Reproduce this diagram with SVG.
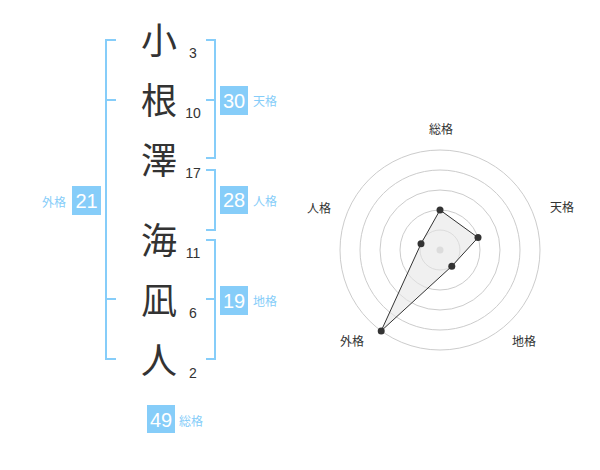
<svg xmlns="http://www.w3.org/2000/svg" width="600" height="470" viewBox="0 0 600 470">
<style>
.ch{font-family:"Noto Sans CJK JP","Noto Sans CJK SC",sans-serif;font-size:36px;fill:#333;text-anchor:middle}
.num{font-family:"Liberation Sans",Arial,sans-serif;font-size:14px;fill:#333;text-anchor:middle}
.br{fill:none;stroke:#86cdf9;stroke-width:2}
.box{fill:#86cdf9}
.bt{font-family:"Liberation Sans",Arial,sans-serif;font-size:20px;fill:#fff;text-anchor:middle}
.lb{font-family:"Noto Sans CJK JP","Noto Sans CJK SC",sans-serif;font-size:12px;fill:#86cdf9}
.rl{font-family:"Noto Sans CJK JP","Noto Sans CJK SC",sans-serif;font-size:12px;fill:#333;text-anchor:middle}
.ring{fill:none;stroke:#ccc;stroke-width:1}
.pt{fill:#333}
</style>
<rect width="600" height="470" fill="#fff"/>
<g id="chars">
<text class="ch" x="159" y="54">小</text>
<text class="ch" x="159" y="114">根</text>
<text class="ch" x="159" y="174">澤</text>
<text class="ch" x="159" y="254">海</text>
<text class="ch" x="159" y="314">凪</text>
<text class="ch" x="159" y="374">人</text>
</g>
<g id="strokes">
<text class="num" x="193" y="58">3</text>
<text class="num" x="193" y="118">10</text>
<text class="num" x="193" y="178">17</text>
<text class="num" x="193" y="258">11</text>
<text class="num" x="193" y="318">6</text>
<text class="num" x="193" y="378">2</text>
</g>
<g id="connectors">
<path class="br" d="M116,40H106V359H116M106,100H116M106,299H116"/>
<path class="br" d="M206,40H215V158H206M215,100H206"/>
<path class="br" d="M206,170H215V230H206"/>
<path class="br" d="M206,240H215V359H206M215,299H206"/>
</g>
<g id="tenkaku">
<rect class="box" x="220" y="86" width="28" height="29"/>
<text class="bt" x="234" y="108">30</text>
<text class="lb" x="253" y="106">天格</text>
</g>
<g id="jinkaku">
<rect class="box" x="220" y="186" width="28" height="28"/>
<text class="bt" x="234" y="207">28</text>
<text class="lb" x="253" y="206">人格</text>
</g>
<g id="chikaku">
<rect class="box" x="220" y="286" width="28" height="29"/>
<text class="bt" x="234" y="308">19</text>
<text class="lb" x="253" y="306">地格</text>
</g>
<g id="gaikaku">
<rect class="box" x="72" y="186" width="29" height="29"/>
<text class="bt" x="86.5" y="208">21</text>
<text class="lb" x="66" y="207" text-anchor="end">外格</text>
</g>
<g id="soukaku">
<rect class="box" x="147" y="405" width="28" height="28"/>
<text class="bt" x="161" y="427">49</text>
<text class="lb" x="179" y="426">総格</text>
</g>
<g id="radar">
<circle class="ring" cx="440" cy="250" r="20"/>
<circle class="ring" cx="440" cy="250" r="40"/>
<circle class="ring" cx="440" cy="250" r="60"/>
<circle class="ring" cx="440" cy="250" r="80"/>
<circle class="ring" cx="440" cy="250" r="100"/>
<circle cx="440" cy="250" r="3.5" fill="#ccc"/>
<polygon points="440,210 478,237.6 451.8,266.2 381.2,330.9 421,243.8" fill="#e6e6e6" fill-opacity="0.6" stroke="#333" stroke-width="1"/>
<circle class="pt" cx="440" cy="210" r="3.5"/>
<circle class="pt" cx="478" cy="237.6" r="3.5"/>
<circle class="pt" cx="451.8" cy="266.2" r="3.5"/>
<circle class="pt" cx="381.2" cy="330.9" r="3.5"/>
<circle class="pt" cx="421" cy="243.8" r="3.5"/>
<text class="rl" x="441" y="134">総格</text>
<text class="rl" x="562" y="212">天格</text>
<text class="rl" x="319" y="213">人格</text>
<text class="rl" x="352" y="346">外格</text>
<text class="rl" x="524" y="346">地格</text>
</g>
</svg>
